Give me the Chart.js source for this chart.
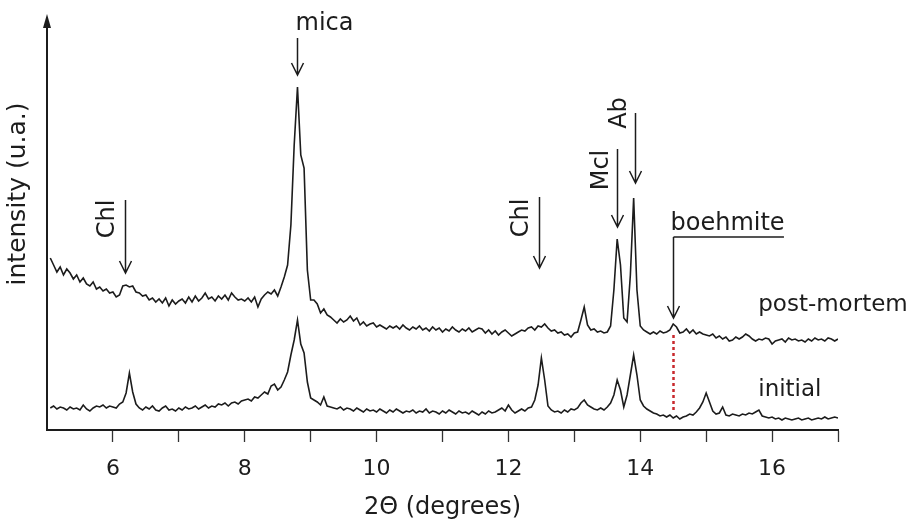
<!DOCTYPE html>
<html>
<head>
<meta charset="utf-8">
<script src="https://cdn.jsdelivr.net/npm/chart.js@4"></script>
<style>
  html, body { margin: 0; padding: 0; background: #fff; }
  #wrap { width: 912px; height: 526px; }
</style>
</head>
<body>
<div id="wrap"><canvas id="xrd" width="912" height="526"></canvas></div>
<script>
// 2-theta positions (degrees), one row per degree
const twoTheta = [
  5.05,5.1,5.15,5.2,5.25,5.3,5.35,5.4,5.45,5.5,5.55,5.6,5.65,5.7,5.75,5.8,5.85,5.9,5.95,6,
  6.05,6.1,6.15,6.2,6.25,6.3,6.35,6.4,6.45,6.5,6.55,6.6,6.65,6.7,6.75,6.8,6.85,6.9,6.95,7,
  7.05,7.1,7.15,7.2,7.25,7.3,7.35,7.4,7.45,7.5,7.55,7.6,7.65,7.7,7.75,7.8,7.85,7.9,7.95,8,
  8.05,8.1,8.15,8.2,8.25,8.3,8.35,8.4,8.45,8.5,8.55,8.6,8.65,8.7,8.75,8.8,8.85,8.9,8.95,9,
  9.05,9.1,9.15,9.2,9.25,9.3,9.35,9.4,9.45,9.5,9.55,9.6,9.65,9.7,9.75,9.8,9.85,9.9,9.95,10,
  10.05,10.1,10.15,10.2,10.25,10.3,10.35,10.4,10.45,10.5,10.55,10.6,10.65,10.7,10.75,10.8,10.85,10.9,10.95,11,
  11.05,11.1,11.15,11.2,11.25,11.3,11.35,11.4,11.45,11.5,11.55,11.6,11.65,11.7,11.75,11.8,11.85,11.9,11.95,12,
  12.05,12.1,12.15,12.2,12.25,12.3,12.35,12.4,12.45,12.5,12.55,12.6,12.65,12.7,12.75,12.8,12.85,12.9,12.95,13,
  13.05,13.1,13.15,13.2,13.25,13.3,13.35,13.4,13.45,13.5,13.55,13.6,13.65,13.7,13.75,13.8,13.85,13.9,13.95,14,
  14.05,14.1,14.15,14.2,14.25,14.3,14.35,14.4,14.45,14.5,14.55,14.6,14.65,14.7,14.75,14.8,14.85,14.9,14.95,15,
  15.05,15.1,15.15,15.2,15.25,15.3,15.35,15.4,15.45,15.5,15.55,15.6,15.65,15.7,15.75,15.8,15.85,15.9,15.95,16,
  16.05,16.1,16.15,16.2,16.25,16.3,16.35,16.4,16.45,16.5,16.55,16.6,16.65,16.7,16.75,16.8,16.85,16.9,16.95,17
];

// post-mortem pattern (offset upward), arbitrary units
const postMortem = [
  172,165,158,163,155,161,157,151,155,148,152,146,144,148,141,143,139,141,137,138,
  133,135,144,145,143,144,138,137,134,135,130,132,128,131,127,132,124,130,126,129,
  131,127,133,128,134,129,132,137,131,133,129,134,131,135,130,137,133,130,131,129,
  132,128,133,123,131,135,138,136,140,134,143,153,165,205,285,343,275,262,160,130,
  130,126,117,121,115,113,110,107,111,108,110,114,109,112,105,108,104,106,107,103,
  105,103,101,104,102,104,101,105,102,100,103,101,104,100,102,99,103,100,102,98,
  101,99,103,100,98,101,99,102,98,100,102,101,97,100,96,99,95,98,100,97,
  94,96,98,100,99,102,103,100,104,103,106,102,99,100,97,98,95,96,93,97,
  98,110,123,105,100,101,98,99,97,98,104,140,191,165,112,108,155,232,140,104,
  100,98,96,98,96,99,97,98,100,106,103,97,98,101,97,100,96,98,96,95,
  94,96,92,94,91,93,89,90,93,91,93,96,94,91,89,91,90,92,91,86,
  89,90,91,88,92,90,91,89,90,88,91,89,92,90,91,89,92,91,89,91
];

// initial pattern, arbitrary units
const initial = [
  22,24,21,23,22,20,23,21,22,20,25,21,19,22,24,23,25,22,24,23,
  22,26,28,37,57,38,26,22,20,23,21,24,20,19,22,24,20,21,19,22,
  20,23,21,22,24,21,23,25,22,24,23,26,25,27,24,27,28,26,29,30,
  31,29,33,32,35,38,36,44,46,40,43,50,58,75,90,110,86,77,48,32,
  30,28,25,33,24,23,22,21,23,20,22,21,19,22,20,18,21,19,20,18,
  21,19,17,20,18,21,19,17,19,18,20,17,19,18,21,17,19,18,16,19,
  17,20,18,16,19,17,18,16,19,17,15,18,16,19,17,18,20,22,19,25,
  20,17,19,21,19,22,23,30,45,72,50,24,20,18,19,17,20,18,21,20,
  22,27,30,25,23,21,20,22,20,23,27,35,50,40,23,35,55,75,55,30,
  24,21,19,17,16,14,15,13,15,12,14,11,13,14,16,15,18,22,28,37,
  28,19,16,17,23,15,14,16,15,14,16,15,17,16,18,20,14,13,12,13,
  11,12,10,12,11,10,11,12,10,11,12,10,11,12,11,13,11,12,13,12
];

const xTicks = [6, 8, 10, 12, 14, 16];

// phase markers: label, 2-theta of arrow, arrow top / tip and label centre (intensity units)
const phaseLabels = ['Chl', 'mica', 'Chl', 'Mcl', 'Ab'];
const phaseAt     = [6.19, 8.79, 12.47, 13.645, 13.92];
const phaseTop    = [230, 392, 233, 281, 317];
const phaseTip    = [157, 355, 162, 203, 247];
const phaseTextY  = [211, 406, 212, 260, 317];

const FONT = '"DejaVu Sans", "Liberation Sans", sans-serif';
const INK = '#1c1c1c';

const toPts = ys => twoTheta.map((x, i) => ({ x, y: ys[i] }));

const decorations = {
  id: 'decorations',
  afterDraw(chart) {
    const { ctx, chartArea: area, scales: { x, y } } = chart;
    const px = v => x.getPixelForValue(v);
    const py = v => y.getPixelForValue(v);

    ctx.save();
    ctx.strokeStyle = INK;
    ctx.fillStyle = INK;
    ctx.lineCap = 'butt';

    // y axis with arrow head
    ctx.lineWidth = 2;
    ctx.beginPath();
    ctx.moveTo(area.left, area.bottom + 1);
    ctx.lineTo(area.left, area.top + 10);
    ctx.stroke();
    ctx.beginPath();
    ctx.moveTo(area.left, area.top - 1);
    ctx.lineTo(area.left - 4, area.top + 13);
    ctx.lineTo(area.left + 4, area.top + 13);
    ctx.closePath();
    ctx.fill();

    // y title
    ctx.save();
    ctx.translate(18, 194);
    ctx.rotate(-Math.PI / 2);
    ctx.font = '25px ' + FONT;
    ctx.textAlign = 'center';
    ctx.textBaseline = 'middle';
    ctx.fillText('intensity (u.a.)', 0, 0);
    ctx.restore();

    const arrow = (ax, top, tip) => {
      ctx.lineWidth = 1.5;
      ctx.beginPath();
      ctx.moveTo(ax, top);
      ctx.lineTo(ax, tip);
      ctx.moveTo(ax - 6, tip - 12);
      ctx.lineTo(ax, tip);
      ctx.lineTo(ax + 6, tip - 12);
      ctx.stroke();
    };

    ctx.font = '24px ' + FONT;
    phaseLabels.forEach((label, i) => {
      const ax = Math.round(px(phaseAt[i])) + 0.5;
      arrow(ax, py(phaseTop[i]), py(phaseTip[i]));
      if (label === 'mica') {
        ctx.textAlign = 'left';
        ctx.textBaseline = 'middle';
        ctx.fillText(label, ax - 2, py(phaseTextY[i]));
      } else {
        ctx.save();
        ctx.translate(ax - (i >= 3 ? 15.5 : 17.5), py(phaseTextY[i]));
        ctx.rotate(-Math.PI / 2);
        ctx.textAlign = 'center';
        ctx.textBaseline = 'middle';
        ctx.fillText(label, 0, 0);
        ctx.restore();
      }
    });

    // boehmite: elbow arrow
    const bx = Math.round(px(14.5)) + 0.5;
    const by = py(193);
    ctx.lineWidth = 1.5;
    ctx.beginPath();
    ctx.moveTo(px(16.18), by);
    ctx.lineTo(bx, by);
    ctx.stroke();
    arrow(bx, by, py(112));
    ctx.textAlign = 'left';
    ctx.textBaseline = 'alphabetic';
    ctx.fillText('boehmite', bx - 3, py(200));

    // red dotted guide
    ctx.strokeStyle = '#c8282d';
    ctx.lineWidth = 2.5;
    ctx.setLineDash([3, 3]);
    ctx.beginPath();
    ctx.moveTo(bx, py(95));
    ctx.lineTo(bx, py(20));
    ctx.stroke();
    ctx.setLineDash([]);

    // series names
    ctx.font = '23px ' + FONT;
    ctx.fillStyle = INK;
    ctx.fillText('post-mortem', px(15.79), py(119));
    ctx.fillText('initial', px(15.79), py(34));
    ctx.restore();
  }
};

new Chart(document.getElementById('xrd'), {
  type: 'line',
  data: {
    datasets: [
      { label: 'post-mortem', data: toPts(postMortem) },
      { label: 'initial', data: toPts(initial) }
    ]
  },
  options: {
    responsive: false,
    animation: false,
    layout: { padding: { top: 15, right: 74, left: 0, bottom: 0 } },
    elements: {
      point: { radius: 0 },
      line: { tension: 0, borderWidth: 1.6, borderColor: INK, fill: false }
    },
    plugins: { legend: { display: false }, tooltip: { enabled: false } },
    scales: {
      x: {
        type: 'linear', min: 5, max: 17,
        afterFit: s => { s.height = 96; },
        afterBuildTicks: s => { s.ticks = [5,6,7,8,9,10,11,12,13,14,15,16,17].map(v => ({ value: v })); },
        ticks: {
          autoSkip: false, maxRotation: 0, padding: 14, color: INK,
          font: { family: FONT, size: 22 },
          callback: v => xTicks.includes(v) ? String(v) : ''
        },
        grid: {
          drawOnChartArea: false, drawTicks: true, tickLength: 12, tickWidth: 1.3,
          tickColor: c => (c.tick && c.tick.value === 5) ? 'rgba(0,0,0,0)' : '#333'
        },
        border: { display: true, color: INK, width: 2 },
        title: {
          display: true, text: '2Θ (degrees)', color: INK,
          font: { family: FONT, size: 24 }, padding: { top: 0, bottom: 4 }
        }
      },
      y: {
        min: 0, max: 415,
        afterFit: s => { s.width = 47; },
        ticks: { display: false },
        grid: { display: false },
        border: { display: false }
      }
    }
  },
  plugins: [decorations]
});
</script>
</body>
</html>
